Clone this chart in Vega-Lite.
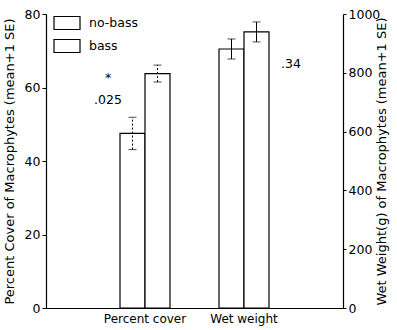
{
  "$schema": "https://vega.github.io/schema/vega-lite/v6.json",
  "width": 297,
  "height": 294,
  "autosize": "none",
  "padding": {"left": 46, "top": 14, "right": 54, "bottom": 22},
  "background": "white",
  "config": {
    "font": "DejaVu Sans",
    "view": {"stroke": null},
    "axis": {"grid": false, "domainColor": "black", "tickColor": "black", "labelColor": "black", "titleColor": "black", "labelFont": "DejaVu Sans", "titleFont": "DejaVu Sans", "titleFontWeight": "normal"}
  },
  "datasets": {
    "bars": [
      {"group": "Percent cover", "treatment": "no-bass", "value": 47.5, "lo": 43.1, "hi": 51.9, "measure": "cover"},
      {"group": "Percent cover", "treatment": "bass", "value": 63.8, "lo": 61.5, "hi": 66.1, "measure": "cover"},
      {"group": "Wet weight", "treatment": "no-bass", "value": 881, "lo": 847, "hi": 915, "measure": "weight"},
      {"group": "Wet weight", "treatment": "bass", "value": 939, "lo": 905, "hi": 973, "measure": "weight"}
    ],
    "notes": [
      {"group": "Percent cover", "label": "*", "y": 62.5, "measure": "cover"},
      {"group": "Percent cover", "label": ".025", "y": 56.5, "measure": "cover"},
      {"group": "Wet weight", "label": ".34", "y": 830, "measure": "weight"}
    ]
  },
  "encoding": {
    "x": {
      "field": "group", "type": "nominal",
      "scale": {"domain": ["Percent cover", "Wet weight"], "paddingOuter": 0.7475, "paddingInner": 0.495},
      "axis": {"title": null, "ticks": false, "labelAngle": 0, "labelFontSize": 12, "labelPadding": 5, "domainWidth": 1.2}
    }
  },
  "layer": [
    {
      "encoding": {
        "y": {"type": "quantitative", "scale": {"domain": [0, 80]},
          "axis": {"title": "Percent Cover of Macrophytes (mean+1 SE)", "titleFontSize": 13, "titlePadding": 8, "values": [0, 20, 40, 60, 80], "labelFontSize": 12.5, "tickSize": 4, "labelPadding": 2, "domainWidth": 1.2}}
      },
      "layer": [
        {
          "data": {"name": "bars"},
          "transform": [{"filter": "datum.measure === 'cover'"}],
          "mark": {"type": "bar", "stroke": "black", "strokeWidth": 1.2},
          "encoding": {
            "y": {"field": "value"},
            "xOffset": {"field": "treatment", "type": "nominal", "scale": {"domain": ["no-bass", "bass"], "paddingInner": 0, "paddingOuter": 0}},
            "fill": {"field": "treatment", "type": "nominal", "scale": {"domain": ["no-bass", "bass"], "range": ["white", "white"]},
              "legend": {"title": null, "orient": "none", "legendX": 6, "legendY": -6, "symbolType": "M-1,-0.5H1V0.5H-1Z", "symbolSize": 676, "symbolStrokeColor": "black", "symbolStrokeWidth": 1.2, "labelFontSize": 12.5, "labelColor": "black", "rowPadding": -6, "labelOffset": 8, "padding": 1}}
          }
        },
        {
          "data": {"name": "bars"},
          "transform": [{"filter": "datum.measure === 'cover'"}],
          "mark": {"type": "errorbar", "ticks": {"size": 8, "color": "black"}, "rule": {"color": "black", "strokeDash": [2, 2]}},
          "encoding": {
            "y": {"field": "lo", "type": "quantitative"},
            "y2": {"field": "hi"},
            "xOffset": {"field": "treatment", "type": "nominal", "scale": {"domain": ["no-bass", "bass"]}}
          }
        },
        {
          "data": {"name": "notes"},
          "transform": [{"filter": "datum.measure === 'cover'"}],
          "mark": {"type": "text", "fontSize": 12.5, "dx": -37, "align": "center", "baseline": "middle"},
          "encoding": {
            "y": {"field": "y", "type": "quantitative"},
            "text": {"field": "label"}
          }
        }
      ]
    },
    {
      "encoding": {
        "y": {"type": "quantitative", "scale": {"domain": [0, 1000]},
          "axis": {"orient": "right", "title": "Wet Weight(g) of Macrophytes (mean+1 SE)", "titleAngle": 270, "titleFontSize": 13, "titlePadding": 9, "values": [0, 200, 400, 600, 800, 1000], "format": "d", "labelFontSize": 12.5, "tickSize": 3, "labelPadding": 2, "domainWidth": 1.2}}
      },
      "layer": [
        {
          "data": {"name": "bars"},
          "transform": [{"filter": "datum.measure === 'weight'"}],
          "mark": {"type": "bar", "stroke": "black", "strokeWidth": 1.2},
          "encoding": {
            "y": {"field": "value"},
            "xOffset": {"field": "treatment", "type": "nominal", "scale": {"domain": ["no-bass", "bass"]}},
            "fill": {"field": "treatment", "type": "nominal"}
          }
        },
        {
          "data": {"name": "bars"},
          "transform": [{"filter": "datum.measure === 'weight'"}],
          "mark": {"type": "errorbar", "ticks": {"size": 8, "color": "black"}, "rule": {"color": "black"}},
          "encoding": {
            "y": {"field": "lo", "type": "quantitative"},
            "y2": {"field": "hi"},
            "xOffset": {"field": "treatment", "type": "nominal", "scale": {"domain": ["no-bass", "bass"]}}
          }
        },
        {
          "data": {"name": "notes"},
          "transform": [{"filter": "datum.measure === 'weight'"}],
          "mark": {"type": "text", "fontSize": 12.5, "dx": 47, "align": "center", "baseline": "middle"},
          "encoding": {
            "y": {"field": "y", "type": "quantitative"},
            "text": {"field": "label"}
          }
        }
      ]
    }
  ],
  "resolve": {"scale": {"y": "independent"}}
}
